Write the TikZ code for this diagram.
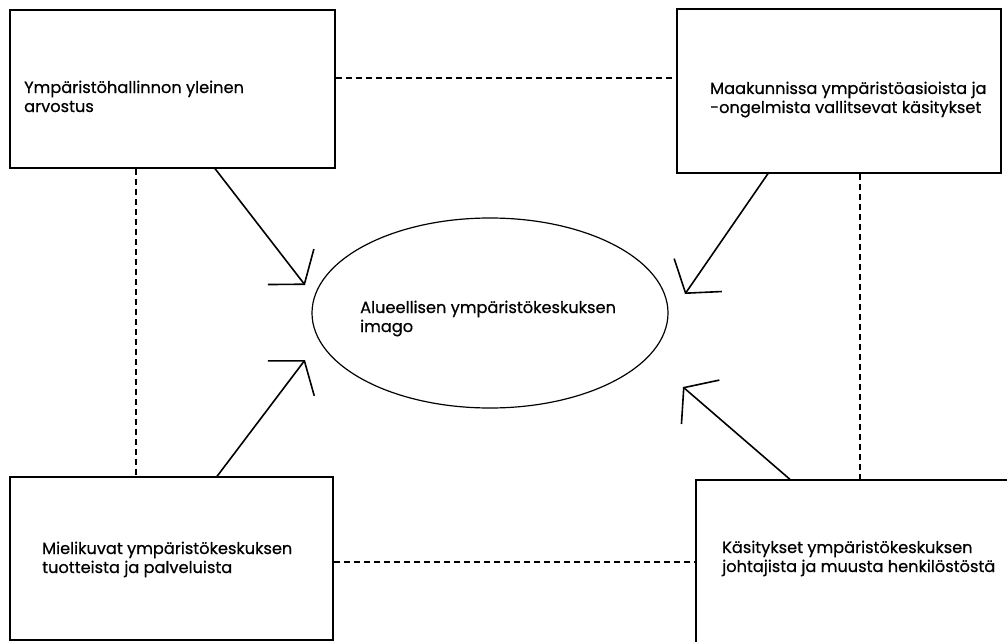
\documentclass[tikz,border=0pt]{standalone}
\usepackage{fontspec}
\setmainfont{Poppins}
\newfontfamily\gfont{Poppins}[FakeBold=0.6]
\usetikzlibrary{arrows.meta,shapes.geometric}
\tikzset{
  box/.style={draw, line width=1.2pt, inner sep=0pt},
  txt/.style={align=left, inner sep=0pt, font=\gfont\fontsize{16.2}{19}\selectfont},
  link/.style={line width=2pt, dash pattern=on 6.5pt off 3.5pt},
  infl/.style={line width=1.6pt, -{Straight Barb[length=22pt, width=58pt, line width=1.6pt]}},
}
\begin{document}
\begin{tikzpicture}[x=1pt, y=-1pt]
\useasboundingbox (0,0) rectangle (1007,642);
% boxes
\node[box, minimum width=325pt, minimum height=158pt] (tl) at (172.5,89) {};
\node[box, minimum width=324pt, minimum height=164pt] (tr) at (839,91) {};
\node[box, minimum width=323pt, minimum height=163pt] (bl) at (171.5,558.5) {};
\node[box, minimum width=320pt, minimum height=180pt] (br) at (856,570) {};
% ellipse
\node[draw, ellipse, line width=1.2pt, minimum width=356pt, minimum height=190pt, inner sep=0pt] (im) at (490,313) {};
% texts (base anchor = baseline of last line)
\node[txt, anchor=base west] (tlt) at (24,112) {Ympäristöhallinnon yleinen\\arvostus};
\node[txt, anchor=base west] (trt) at (710,113) {Maakunnissa ympäristöasioista ja\\-ongelmista vallitsevat käsitykset};
\node[txt, anchor=base west] (blt) at (42,573) {Mielikuvat ympäristökeskuksen\\tuotteista ja palveluista};
\node[txt, anchor=base west] (brt) at (722,572) {Käsitykset ympäristökeskuksen\\johtajista ja muusta henkilöstöstä};
\node[txt, anchor=base west] (imt) at (360,332) {Alueellisen ympäristökeskuksen\\imago};
% dashed links
\draw[link] (tl.east |- 0,78) -- (tr.west |- 0,78);
\draw[link] (bl.east |- 0,562) -- (br.west |- 0,562);
\draw[link] (tl.south -| 136,0) -- (bl.north -| 136,0);
\draw[link] (tr.south -| 860,0) -- (br.north -| 860,0);
% arrow ends
\coordinate (a1) at (305,285);
\coordinate (a2) at (685,294);
\coordinate (a3) at (305,360);
\coordinate (a4) at (683,387);
\draw[infl] (tl.south -| 215,0) -- (a1);
\draw[infl] (tr.south -| 768,0) -- (a2);
\draw[infl] (bl.north -| 217,0) -- (a3);
\draw[infl] (br.north -| 790,0) -- (a4);
\end{tikzpicture}
\end{document}
